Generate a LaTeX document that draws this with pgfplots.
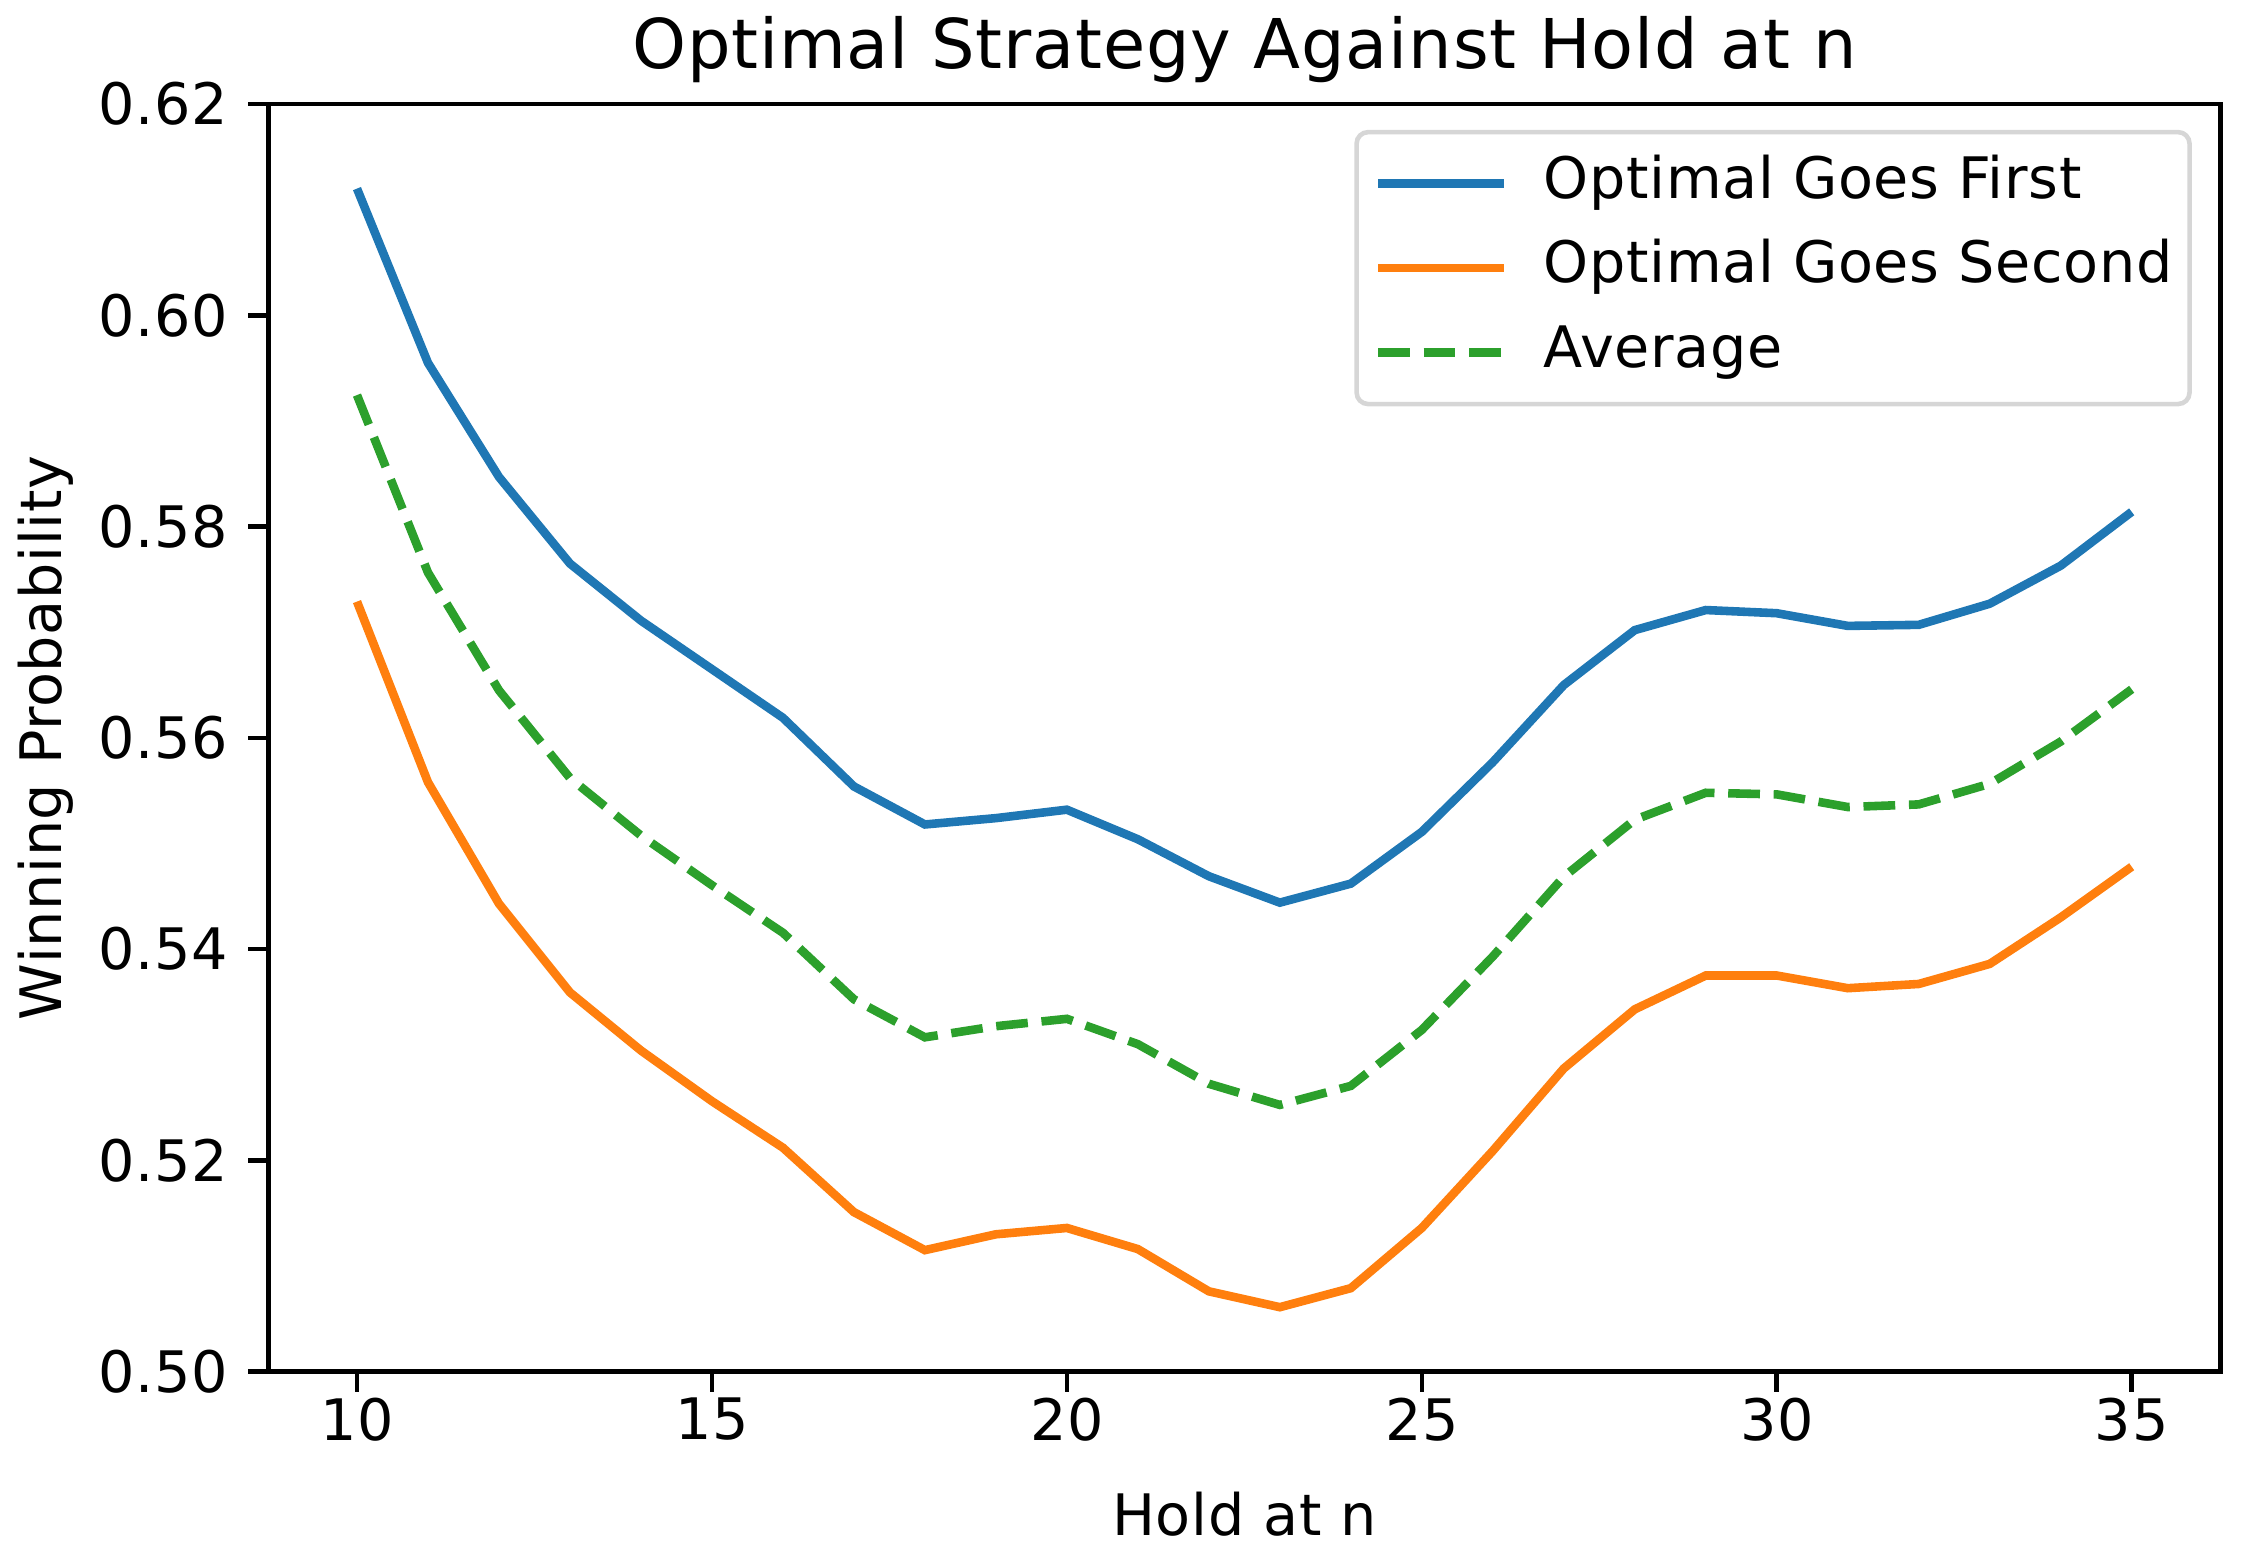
\documentclass[border=0pt]{standalone}
\usepackage{fontspec}
\setmainfont[LetterSpace=1.2]{DejaVu Sans}
\usepackage{pgfplots}
\usepackage{pgfplotstable}
\pgfplotsset{compat=1.18}

\definecolor{tabblue}{HTML}{1F77B4}
\definecolor{taborange}{HTML}{FF7F0E}
\definecolor{tabgreen}{HTML}{2CA02C}

% hold-at-n threshold vs. winning probability of the optimal player
\pgfplotstableread{
n   first   second  avg
10  0.6120  0.5729  0.59245
11  0.5955  0.5558  0.57565
12  0.5847  0.5443  0.56450
13  0.5765  0.5359  0.55620
14  0.5711  0.5304  0.55075
15  0.5665  0.5256  0.54605
16  0.5619  0.5212  0.54155
17  0.5554  0.5151  0.53525
18  0.5518  0.5115  0.53165
19  0.5524  0.5130  0.53270
20  0.5532  0.5136  0.53340
21  0.5504  0.5116  0.53100
22  0.5469  0.5076  0.52725
23  0.5444  0.5061  0.52525
24  0.5462  0.5079  0.52705
25  0.5511  0.5136  0.53235
26  0.5577  0.5209  0.53930
27  0.5650  0.5287  0.54685
28  0.5702  0.5343  0.55225
29  0.5721  0.5375  0.55480
30  0.5718  0.5375  0.55465
31  0.5706  0.5363  0.55345
32  0.5707  0.5367  0.55370
33  0.5727  0.5386  0.55565
34  0.5763  0.5430  0.55965
35  0.5814  0.5478  0.56460
}\probs

\begin{document}
\begin{tikzpicture}
\useasboundingbox (-46.9pt,-31.2pt) rectangle (345.6pt,239.8pt);
\begin{axis}[
    scale only axis,
    width=341.3pt, height=221.6pt,
    at={(0,0)}, anchor=south west,
    xmin=8.75, xmax=36.25,
    ymin=0.50, ymax=0.62,
    xtick={10,15,20,25,30,35},
    ytick={0.50,0.52,0.54,0.56,0.58,0.60,0.62},
    yticklabel style={/pgf/number format/.cd, fixed, fixed zerofill, precision=2},
    /pgf/number format/assume math mode=true,
    tick align=outside,
    major tick length=3.5pt,
    xtick pos=bottom, ytick pos=left,
    every tick/.style={black, line width=0.8pt},
    axis line style={line width=0.8pt},
    tick label style={font=\fontsize{10}{12}\selectfont},
    xticklabel style={yshift=2.5pt},
    xlabel={Hold at n},
    ylabel={Winning Probability},
    every axis x label/.style={at={(rel axis cs:0.5,0)}, anchor=base, yshift=-28.6pt,
        font=\fontsize{10}{12}\selectfont},
    every axis y label/.style={at={(rel axis cs:0,0.5)}, anchor=base, rotate=90, yshift=36.2pt,
        font=\fontsize{10}{12}\selectfont},
    title={Optimal Strategy Against Hold at n},
    every axis title/.style={at={(rel axis cs:0.5,1)}, anchor=base, yshift=6.3pt,
        font=\fontsize{12}{14}\selectfont},
    legend style={at={(rel axis cs:1,1)}, anchor=north east, xshift=-5pt, yshift=-4.5pt,
        draw=black!16, line width=0.8pt, rounded corners=2pt, fill=white,
        inner xsep=3pt, inner ysep=4pt, row sep=4.77pt,
        font=\fontsize{10}{12}\selectfont,
        nodes={inner sep=0pt, text height=7.6pt, text depth=2.4pt}},
    legend cell align=left,
    legend image code/.code={\draw[#1] (0pt,0pt) -- (22pt,0pt);},
    legend style={/tikz/column sep=6.25pt},
]
\addplot[tabblue, line width=1.5pt] table[x=n, y=first] {\probs};
\addlegendentry{Optimal Goes First}
\addplot[taborange, line width=1.5pt] table[x=n, y=second] {\probs};
\addlegendentry{Optimal Goes Second}
\addplot[tabgreen, line width=1.5pt, dash pattern=on 5.55pt off 2.4pt] table[x=n, y=avg] {\probs};
\addlegendentry{Average}
\end{axis}
\end{tikzpicture}
\end{document}
